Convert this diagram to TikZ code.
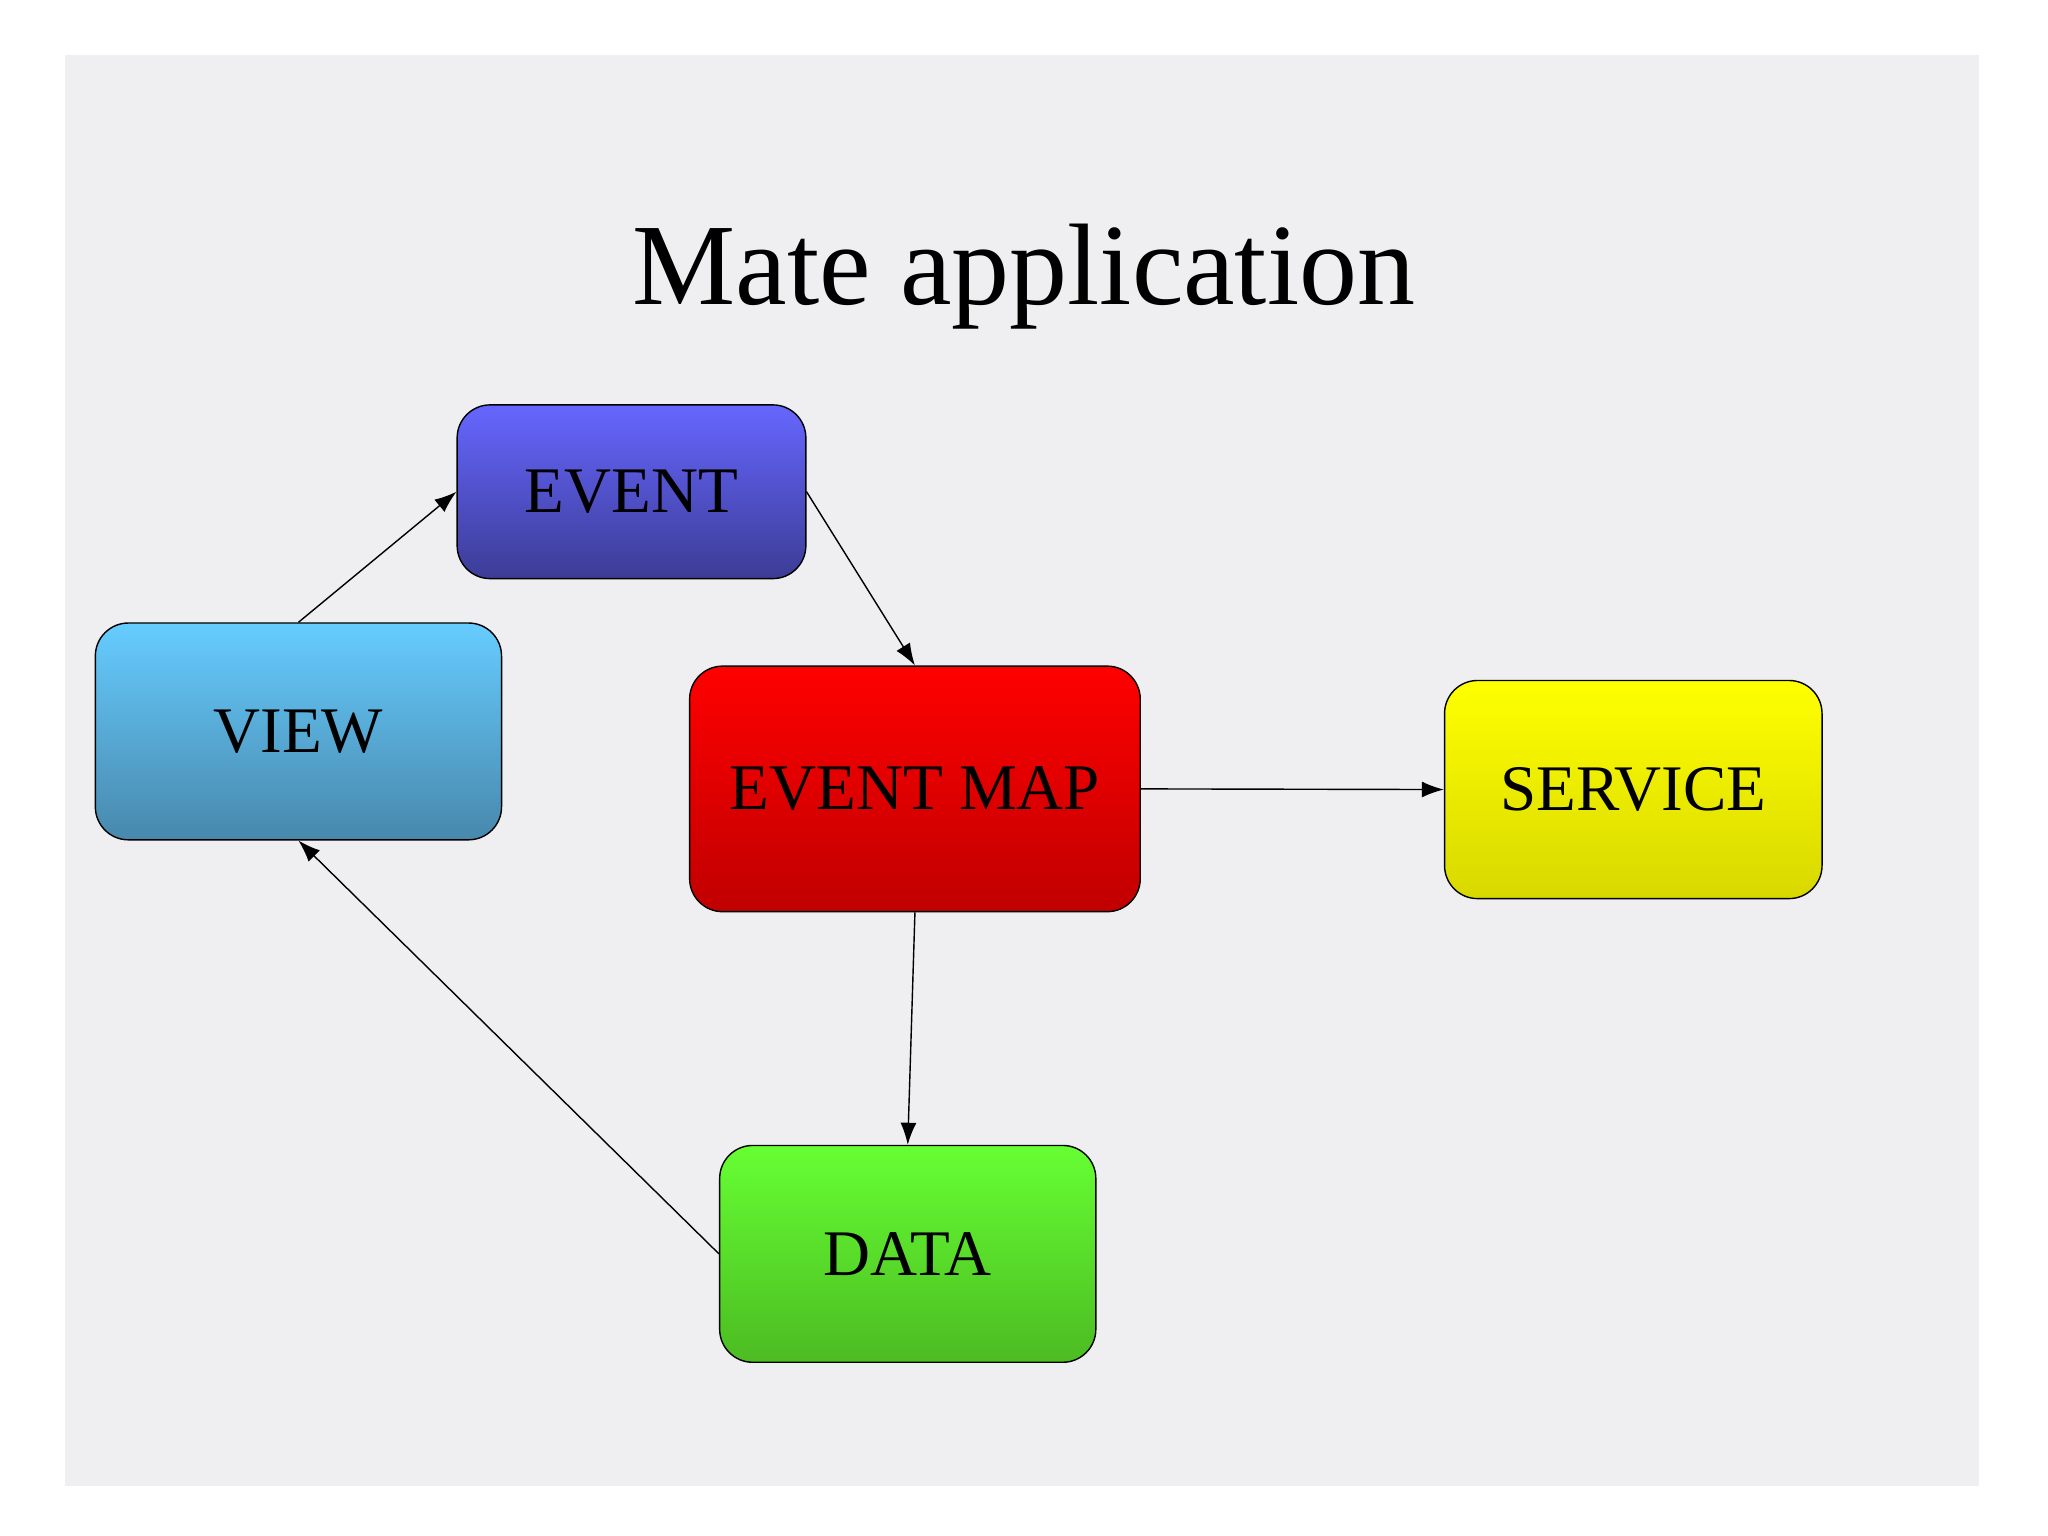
\documentclass[tikz,border=0pt]{standalone}
\usepackage{fontspec}
\setmainfont{Liberation Serif}
\usetikzlibrary{arrows.meta}
\definecolor{bg}{HTML}{EFEEF0}
\begin{document}
\begin{tikzpicture}[x=0.013061cm,y=-0.013061cm,
  box/.style={draw=black,thin,rounded corners=0.33cm,inner sep=0pt,font=\fontsize{18.5}{22}\selectfont},
  link/.style={-{Latex[length=2.2mm,width=1.6mm]},thin}]
  \useasboundingbox (0,0) rectangle (1568,1176);
  \fill[white] (0,0) rectangle (1568,1176);
  \fill[bg] (50,42) rectangle (1515,1138);
  \node[font=\fontsize{33}{40}\selectfont] (title) at (784,212) {Mate application};
  \node[box,top color={rgb,255:red,102;green,102;blue,255},bottom color={rgb,255:red,60;green,60;blue,150},
    minimum width=267*0.013061cm,minimum height=133*0.013061cm] (event) at (483.5,376.5) {EVENT};
  \node[box,top color={rgb,255:red,102;green,204;blue,255},bottom color={rgb,255:red,72;green,136;blue,172},
    minimum width=311*0.013061cm,minimum height=166*0.013061cm] (view) at (228.5,560) {VIEW};
  \node[box,top color={rgb,255:red,255;green,0;blue,0},bottom color={rgb,255:red,192;green,0;blue,0},
    minimum width=345*0.013061cm,minimum height=188*0.013061cm] (map) at (700.5,604) {EVENT MAP};
  \node[box,top color={rgb,255:red,255;green,255;blue,0},bottom color={rgb,255:red,216;green,216;blue,0},
    minimum width=289*0.013061cm,minimum height=167*0.013061cm] (service) at (1250.5,604.5) {SERVICE};
  \node[box,top color={rgb,255:red,102;green,255;blue,51},bottom color={rgb,255:red,76;green,187;blue,34},
    minimum width=288*0.013061cm,minimum height=166*0.013061cm] (data) at (695,960) {DATA};
  \draw[link] (view.north) -- (event.west);
  \draw[link] (event.east) -- (map.north);
  \draw[link] (map.east) -- (service.west);
  \draw[link] (map.south) -- (data.north);
  \draw[link] (data.west) -- (view.south);
\end{tikzpicture}
\end{document}
